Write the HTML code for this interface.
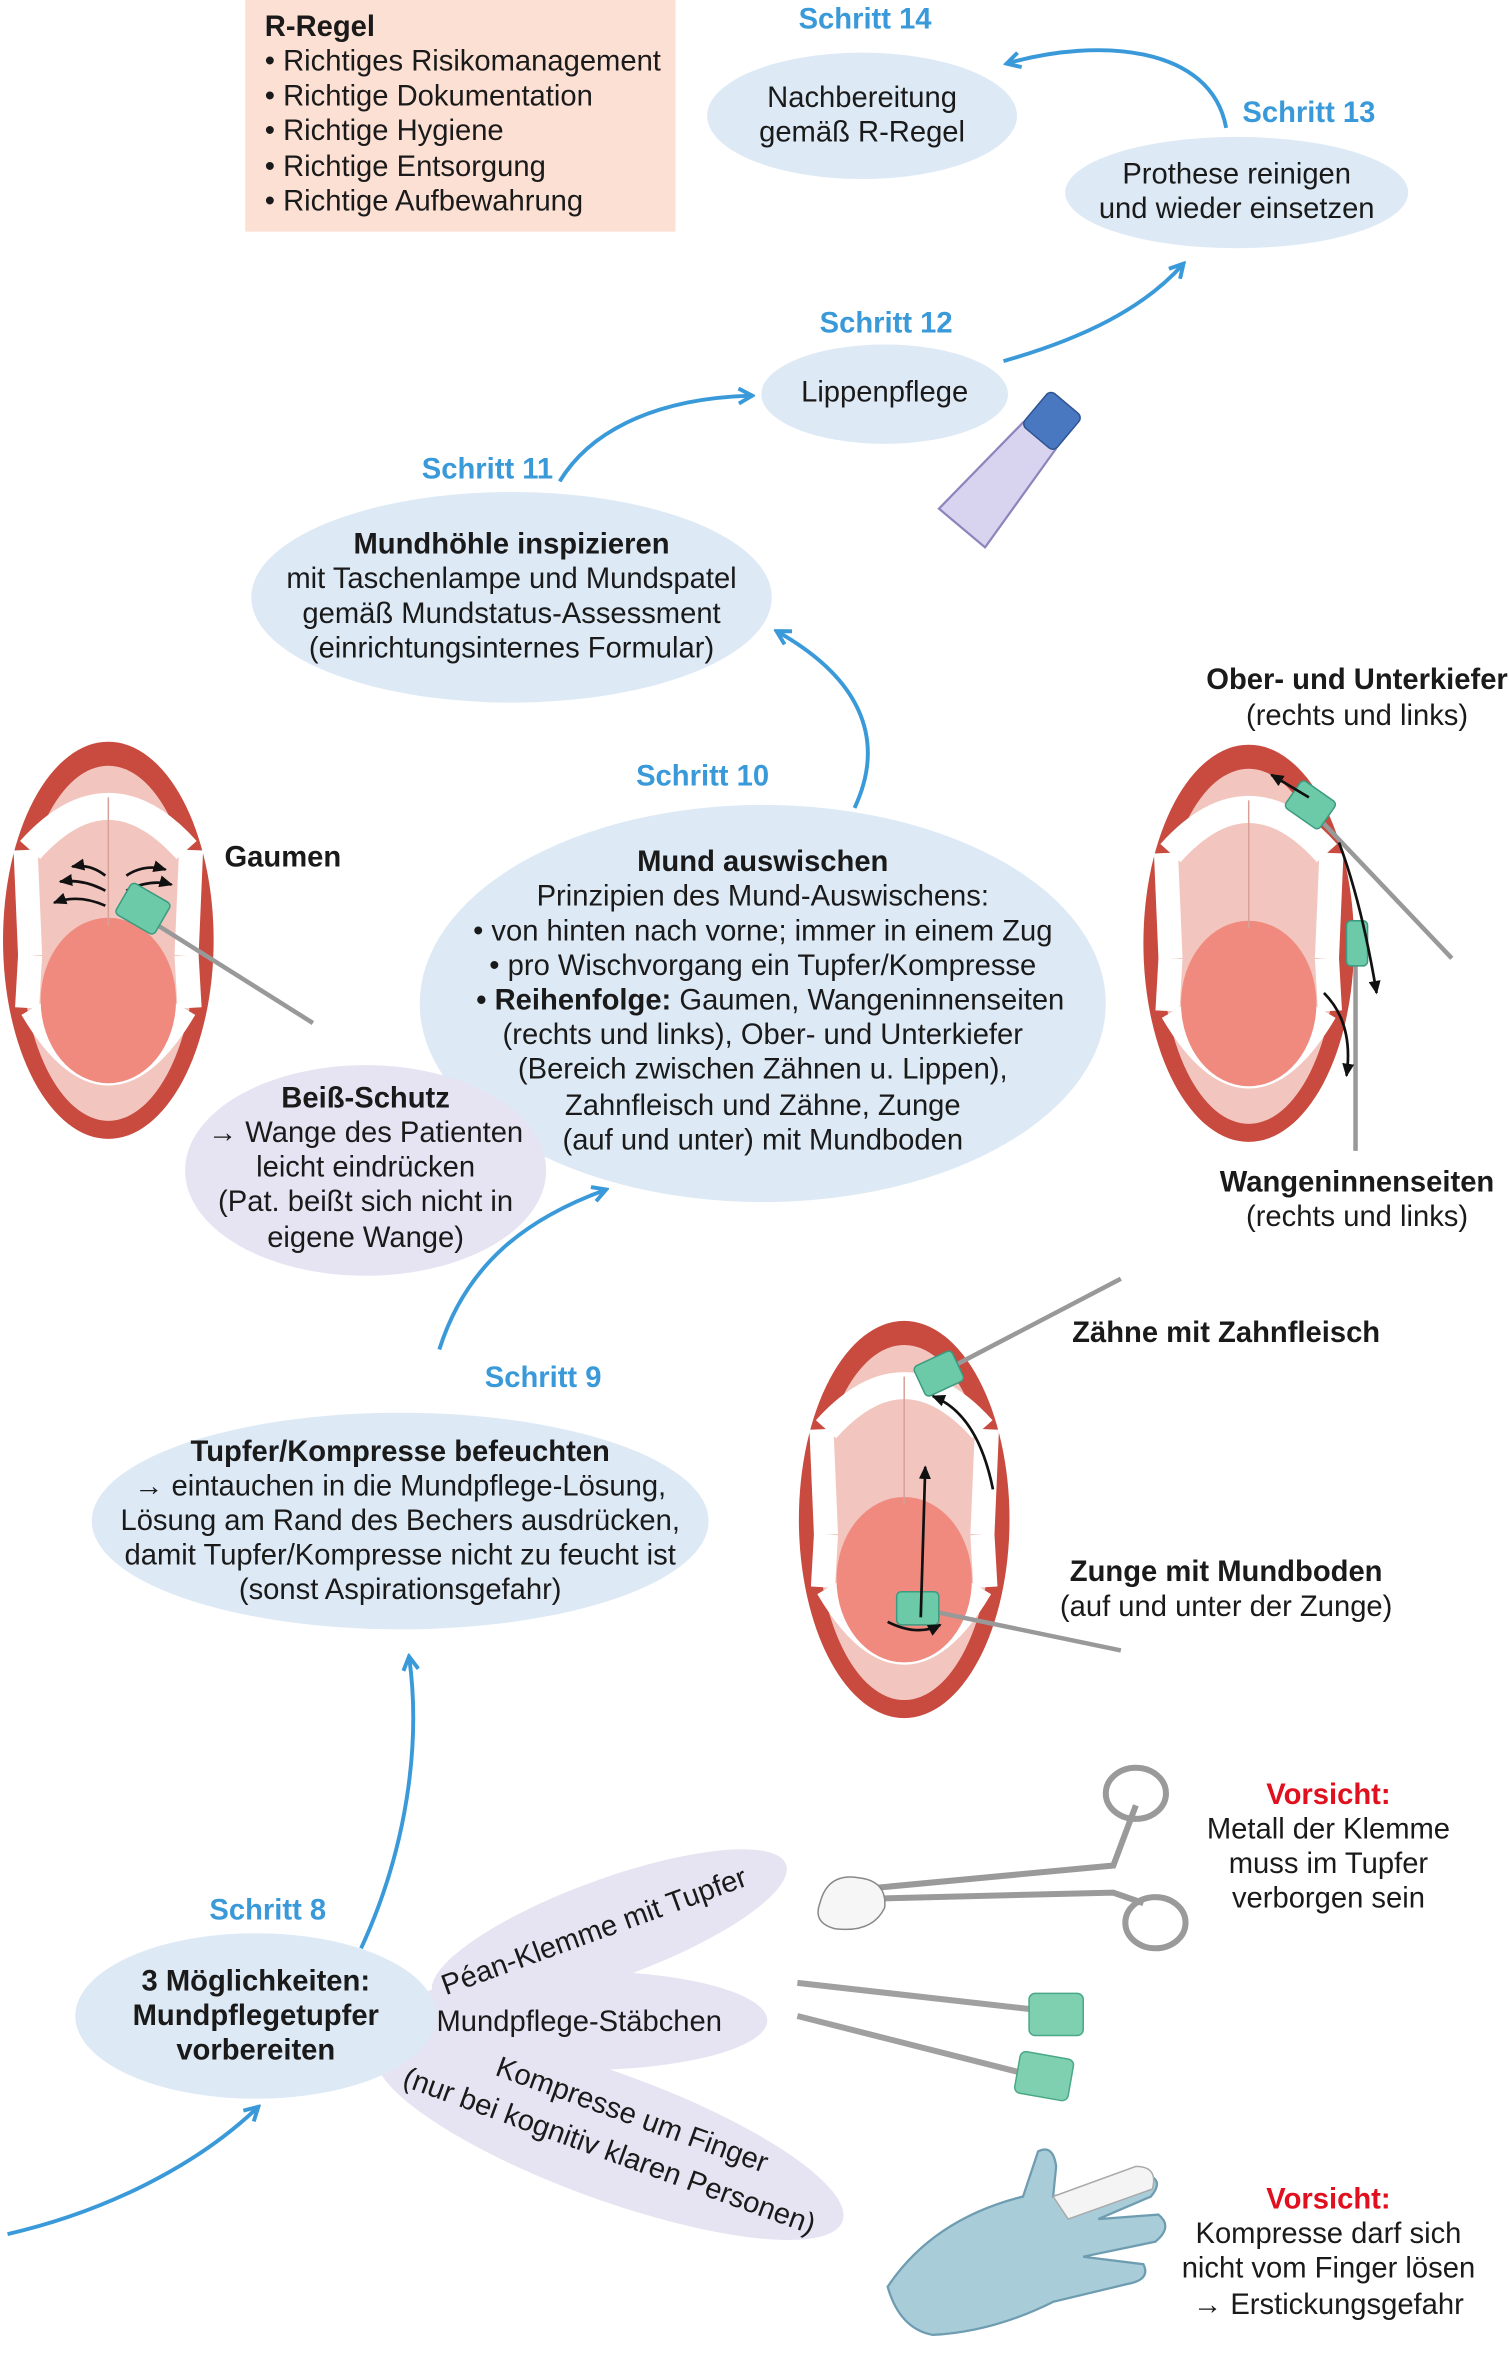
<!DOCTYPE html>
<html><head><meta charset="utf-8">
<style>
html,body{margin:0;padding:0;background:#fff;}
svg{display:block;}
text{font-family:"Liberation Sans",Arial,sans-serif;font-size:19.4px;fill:#1a1a1a;text-anchor:middle;}
.b{font-weight:bold;}
.s{fill:#3a9ad9;font-weight:bold;}
.r{fill:#e0101e;font-weight:bold;}
.l{text-anchor:start;}
.arr{fill:none;stroke:#3a9ad9;stroke-width:2.6;}
</style></head>
<body>
<svg width="1509" height="2359" viewBox="0 0 1003 1568" xmlns="http://www.w3.org/2000/svg">
<defs>
<marker id="ah" markerWidth="12" markerHeight="12" refX="9" refY="6" orient="auto" markerUnits="userSpaceOnUse">
<path d="M1,1 L10,6 L1,11" fill="none" stroke="#3a9ad9" stroke-width="2.6"/>
</marker>
<marker id="bk" markerWidth="10" markerHeight="10" refX="8" refY="5" orient="auto" markerUnits="userSpaceOnUse">
<path d="M0,1 L9,5 L0,9 z" fill="#111"/>
</marker>
<g id="mouth">
<ellipse cx="0" cy="0" rx="70" ry="132" fill="#c94a3f"/>
<ellipse cx="0" cy="2" rx="58" ry="118" fill="#f2c6bf"/>
<path d="M-52,-60 Q0,-118 52,-60" fill="none" stroke="#fff" stroke-width="18"/>
<path d="M-55,-60 L-52,10" stroke="#fff" stroke-width="16"/>
<path d="M55,-60 L52,10" stroke="#fff" stroke-width="16"/>
<path d="M-50,45 Q0,130 50,45" fill="none" stroke="#fff" stroke-width="18"/>
<path d="M-54,45 L-52,10" stroke="#fff" stroke-width="16"/>
<path d="M54,45 L52,10" stroke="#fff" stroke-width="16"/>
<ellipse cx="0" cy="40" rx="45" ry="55" fill="#f08a7e"/>
<line x1="0" y1="-95" x2="0" y2="-10" stroke="#d9a098" stroke-width="1"/>
</g>
</defs>

<rect x="163" y="0" width="286" height="154" fill="#fce0d4"/>
<text class="l b" x="176" y="24">R-Regel</text>
<text class="l" x="176" y="47">• Richtiges Risikomanagement</text>
<text class="l" x="176" y="70">• Richtige Dokumentation</text>
<text class="l" x="176" y="93">• Richtige Hygiene</text>
<text class="l" x="176" y="117">• Richtige Entsorgung</text>
<text class="l" x="176" y="140">• Richtige Aufbewahrung</text>

<text class="s" x="575" y="19">Schritt  14</text>
<ellipse cx="573" cy="77" rx="103" ry="42" fill="#dde9f5"/>
<text x="573" y="71">Nachbereitung</text>
<text x="573" y="94">gemäß R-Regel</text>
<path class="arr" d="M815,85 C805,30 730,25 670,42" marker-end="url(#ah)"/>

<text class="s" x="870" y="81">Schritt  13</text>
<ellipse cx="822" cy="128" rx="114" ry="37" fill="#dde9f5"/>
<text x="822" y="122">Prothese reinigen</text>
<text x="822" y="145">und wieder einsetzen</text>
<path class="arr" d="M667,240 C720,225 760,205 786,176" marker-end="url(#ah)"/>

<text class="s" x="589" y="221">Schritt  12</text>
<ellipse cx="588" cy="262" rx="82" ry="33" fill="#dde9f5"/>
<text x="588" y="267">Lippenpflege</text>
<path class="arr" d="M372,320 C390,290 430,265 499,263" marker-end="url(#ah)"/>
<g transform="translate(678,305) rotate(40)">
<path d="M-14,-20 L14,-20 L20,60 L-20,60 Z" fill="#d8d4ef" stroke="#8c86bd" stroke-width="1.5"/>
<rect x="-14" y="-48" width="28" height="30" rx="4" fill="#4a78c0" stroke="#2e5494"/>
</g>

<text class="s" x="324" y="318">Schritt  11</text>
<ellipse cx="340" cy="397" rx="173" ry="70" fill="#dde9f5"/>
<text class="b" x="340" y="368">Mundhöhle inspizieren</text>
<text x="340" y="391">mit Taschenlampe und Mundspatel</text>
<text x="340" y="414">gemäß Mundstatus-Assessment</text>
<text x="340" y="437">(einrichtungsinternes Formular)</text>
<path class="arr" d="M568,537 C590,490 570,450 517,420" marker-end="url(#ah)"/>

<text class="s" x="467" y="522">Schritt  10</text>
<ellipse cx="507" cy="667" rx="228" ry="132" fill="#dde9f5"/>
<text class="b" x="507" y="579">Mund auswischen</text>
<text x="507" y="602">Prinzipien des Mund-Auswischens:</text>
<text x="507" y="625">• von hinten nach vorne; immer in einem Zug</text>
<text x="507" y="648">• pro Wischvorgang ein Tupfer/Kompresse</text>
<text x="512" y="671"><tspan font-weight="bold">• Reihenfolge:</tspan> Gaumen, Wangeninnenseiten</text>
<text x="507" y="694">(rechts und links), Ober- und Unterkiefer</text>
<text x="507" y="717">(Bereich zwischen Zähnen u. Lippen),</text>
<text x="507" y="741">Zahnfleisch und Zähne, Zunge</text>
<text x="507" y="764">(auf und unter) mit Mundboden</text>

<ellipse cx="243" cy="778" rx="120" ry="70" fill="#e6e4f2"/>
<text class="b" x="243" y="736">Beiß-Schutz</text>
<text x="243" y="759">→ Wange des Patienten</text>
<text x="243" y="782">leicht eindrücken</text>
<text x="243" y="805">(Pat. beißt sich nicht in</text>
<text x="243" y="829">eigene Wange)</text>

<path class="arr" d="M292,897 C310,840 350,810 402,791" marker-end="url(#ah)"/>

<text class="s" x="361" y="922">Schritt  9</text>
<ellipse cx="266" cy="1011" rx="205" ry="72" fill="#dde9f5"/>
<text class="b" x="266" y="971">Tupfer/Kompresse befeuchten</text>
<text x="266" y="994">→ eintauchen in die Mundpflege-Lösung,</text>
<text x="266" y="1017">Lösung am Rand des Bechers ausdrücken,</text>
<text x="266" y="1040">damit Tupfer/Kompresse nicht zu feucht ist</text>
<text x="266" y="1063">(sonst Aspirationsgefahr)</text>
<path class="arr" d="M240,1295 C270,1230 280,1160 272,1102" marker-end="url(#ah)"/>

<text class="s" x="178" y="1276">Schritt  8</text>
<ellipse cx="405" cy="1282" rx="125" ry="33" fill="#e6e4f2" transform="rotate(-20 405 1282)"/>
<ellipse cx="405" cy="1420" rx="165" ry="42" fill="#e6e4f2" transform="rotate(20 405 1420)"/>
<ellipse cx="385" cy="1343" rx="125" ry="33" fill="#e6e4f2"/>
<ellipse cx="170" cy="1340" rx="120" ry="55" fill="#dde9f5"/>
<text class="b" x="170" y="1323">3 Möglichkeiten:</text>
<text class="b" x="170" y="1346">Mundpflegetupfer</text>
<text class="b" x="170" y="1369">vorbereiten</text>
<text x="395" y="1290" transform="rotate(-20 395 1284)">Péan-Klemme mit Tupfer</text>
<text x="385" y="1350">Mundpflege-Stäbchen</text>
<text x="420" y="1412" transform="rotate(20 420 1406)">Kompresse um Finger</text>
<text x="405" y="1436" transform="rotate(20 405 1430)">(nur bei kognitiv klaren Personen)</text>
<path class="arr" d="M5,1485 C70,1470 130,1440 171,1401" marker-end="url(#ah)"/>

<use href="#mouth" transform="translate(72,625)"/>
<use href="#mouth" transform="translate(830,627)"/>
<use href="#mouth" transform="translate(601,1010)"/>

<g stroke="#111" stroke-width="1.8" fill="none">
<path d="M70,582 Q60,574 48,576" marker-end="url(#bk)"/>
<path d="M70,592 Q55,584 40,586" marker-end="url(#bk)"/>
<path d="M70,602 Q52,594 36,600" marker-end="url(#bk)"/>
<path d="M84,582 Q96,574 110,578" marker-end="url(#bk)"/>
<path d="M84,592 Q100,584 114,588" marker-end="url(#bk)"/>
</g>
<line x1="100" y1="612" x2="208" y2="680" stroke="#999" stroke-width="3"/>
<rect x="80" y="592" width="30" height="24" rx="3" fill="#6ccaa8" stroke="#3b9a80" transform="rotate(30 95 604)"/>
<text class="b" x="188" y="576">Gaumen</text>

<line x1="870" y1="537" x2="965" y2="637" stroke="#999" stroke-width="3"/>
<line x1="901" y1="628" x2="901" y2="765" stroke="#999" stroke-width="3"/>
<rect x="857" y="524" width="28" height="22" rx="3" fill="#6ccaa8" stroke="#3b9a80" transform="rotate(35 871 535)"/>
<rect x="895" y="612" width="14" height="30" rx="3" fill="#6ccaa8" stroke="#3b9a80"/>
<path d="M890,560 Q905,600 915,660" stroke="#111" stroke-width="1.8" fill="none" marker-end="url(#bk)"/>
<path d="M880,660 Q900,680 895,715" stroke="#111" stroke-width="1.8" fill="none" marker-end="url(#bk)"/>
<path d="M870,530 L845,515" stroke="#111" stroke-width="1.8" fill="none" marker-end="url(#bk)"/>
<text class="b" x="902" y="458">Ober- und Unterkiefer</text>
<text x="902" y="482">(rechts und links)</text>
<text class="b" x="902" y="792">Wangeninnenseiten</text>
<text x="902" y="815">(rechts und links)</text>

<line x1="630" y1="910" x2="745" y2="850" stroke="#999" stroke-width="3"/>
<line x1="615" y1="1070" x2="745" y2="1097" stroke="#999" stroke-width="3"/>
<rect x="610" y="902" width="28" height="22" rx="3" fill="#6ccaa8" stroke="#3b9a80" transform="rotate(-25 624 913)"/>
<rect x="596" y="1058" width="28" height="22" rx="3" fill="#6ccaa8" stroke="#3b9a80"/>
<path d="M660,990 Q650,940 620,928" stroke="#111" stroke-width="1.8" fill="none" marker-end="url(#bk)"/>
<path d="M612,1075 L615,975" stroke="#111" stroke-width="1.8" fill="none" marker-end="url(#bk)"/>
<path d="M590,1078 Q610,1088 625,1080" stroke="#111" stroke-width="1.8" fill="none" marker-end="url(#bk)"/>
<text class="b" x="815" y="892">Zähne mit Zahnfleisch</text>
<text class="b" x="815" y="1051">Zunge mit Mundboden</text>
<text x="815" y="1074">(auf und unter der Zunge)</text>

<g fill="none" stroke="#9a9a9a" stroke-width="4">
<path d="M580,1255 L740,1240 L755,1200"/>
<path d="M580,1262 L740,1258 L760,1265"/>
</g>
<ellipse cx="755" cy="1192" rx="20" ry="17" fill="none" stroke="#9a9a9a" stroke-width="4"/>
<ellipse cx="768" cy="1278" rx="20" ry="17" fill="none" stroke="#9a9a9a" stroke-width="4"/>
<path d="M545,1265 Q550,1245 570,1248 Q590,1250 588,1268 Q580,1285 555,1282 Q540,1278 545,1265 Z" fill="#f6f6f6" stroke="#888"/>

<line x1="530" y1="1318" x2="690" y2="1336" stroke="#a0a0a0" stroke-width="4"/>
<line x1="530" y1="1340" x2="680" y2="1378" stroke="#a0a0a0" stroke-width="4"/>
<rect x="684" y="1325" width="36" height="28" rx="4" fill="#7fd0b0" stroke="#4aa888"/>
<rect x="676" y="1366" width="36" height="28" rx="4" fill="#7fd0b0" stroke="#4aa888" transform="rotate(10 694 1380)"/>

<path d="M590,1520 Q620,1475 680,1460 L690,1430 Q700,1425 702,1440 L700,1460 L760,1445 Q775,1448 765,1460 L730,1475 L770,1472 Q780,1480 768,1490 L720,1500 L760,1505 Q765,1515 750,1518 L700,1530 Q660,1550 620,1552 Q598,1548 590,1520 Z" fill="#a8ccd8" stroke="#6e9cb0" stroke-width="1.5"/>
<path d="M700,1460 L755,1440 Q770,1440 766,1455 L710,1475 Z" fill="#f4f4f4" stroke="#aaa"/>

<text class="r" x="883" y="1199">Vorsicht:</text>
<text x="883" y="1222">Metall der Klemme</text>
<text x="883" y="1245">muss im Tupfer</text>
<text x="883" y="1268">verborgen sein</text>
<text class="r" x="883" y="1468">Vorsicht:</text>
<text x="883" y="1491">Kompresse darf sich</text>
<text x="883" y="1514">nicht vom Finger lösen</text>
<text x="883" y="1538">→ Erstickungsgefahr</text>
</svg>
</body></html>
